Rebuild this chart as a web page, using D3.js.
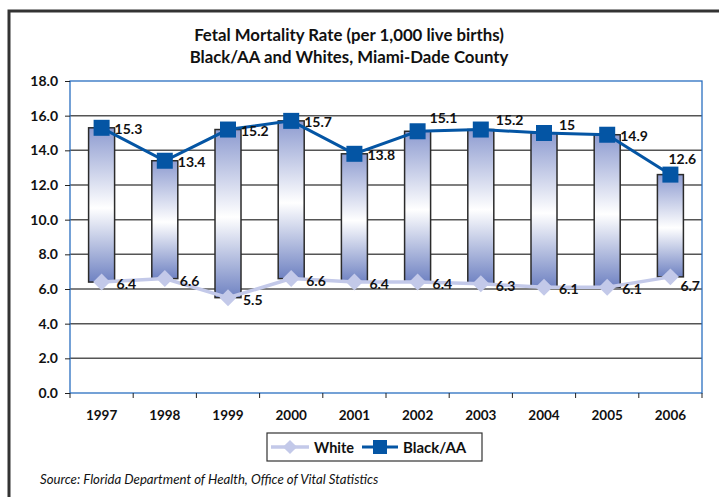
<!DOCTYPE html>
<html>
<head>
<meta charset="utf-8">
<script src="https://cdn.jsdelivr.net/npm/d3@7"></script>
<style>
  body { margin: 0; background: #fff; }
  svg { display: block; }
  text { font-family: Lato, "Open Sans", sans-serif; }
</style>
</head>
<body>
<div id="chart"></div>
<script>
const years = ["1997", "1998", "1999", "2000", "2001", "2002", "2003", "2004", "2005", "2006"];
const white = [6.4, 6.6, 5.5, 6.6, 6.4, 6.4, 6.3, 6.1, 6.1, 6.7];
const black = [15.3, 13.4, 15.2, 15.7, 13.8, 15.1, 15.2, 15.0, 14.9, 12.6];
const yTicks = [0, 2, 4, 6, 8, 10, 12, 14, 16, 18];
const titleLines = ["Fetal Mortality Rate (per 1,000 live births)", "Black/AA and Whites, Miami-Dade County"];
const source = "Source: Florida Department of Health, Office of Vital Statistics";

const width = 719, height = 497;
const margin = { top: 81, right: 17, bottom: 104, left: 70 };
const innerW = width - margin.left - margin.right;
const innerH = height - margin.top - margin.bottom;

const blueLine = "#0455a4";
const lavender = "#c3c9e9";

const svg = d3.select("#chart").append("svg")
  .attr("width", width)
  .attr("height", height);

const defs = svg.append("defs");
const grad = defs.append("linearGradient")
  .attr("id", "barGrad")
  .attr("x1", 0).attr("y1", 0).attr("x2", 0).attr("y2", 1);
grad.append("stop").attr("offset", "0%").attr("stop-color", "#8d9bd0");
grad.append("stop").attr("offset", "52%").attr("stop-color", "#ffffff");
grad.append("stop").attr("offset", "100%").attr("stop-color", "#6f82c2");

// outer frame
svg.append("rect")
  .attr("x", 9).attr("y", 11)
  .attr("width", 800).attr("height", 600)
  .attr("fill", "none")
  .attr("stroke", "#333")
  .attr("stroke-width", 3);

// title
svg.append("g").selectAll("text")
  .data(titleLines)
  .join("text")
  .attr("x", 349)
  .attr("y", (d, i) => 41 + i * 22)
  .attr("text-anchor", "middle")
  .attr("font-size", 16.8)
  .attr("font-weight", "bold")
  .attr("fill", "#111")
  .text(d => d);

const x = d3.scaleBand().domain(years).range([0, innerW]);
const y = d3.scaleLinear().domain([0, 18]).range([innerH, 0]);

const g = svg.append("g").attr("transform", `translate(${margin.left},${margin.top})`);

// gridlines
g.append("g")
  .selectAll("line")
  .data(yTicks.filter(d => d > 0 && d < 18))
  .join("line")
  .attr("x1", 0).attr("x2", innerW)
  .attr("y1", d => y(d)).attr("y2", d => y(d))
  .attr("stroke", "#555")
  .attr("stroke-width", 1.5);

// plot frame
g.append("rect")
  .attr("x", 0).attr("y", 0)
  .attr("width", innerW).attr("height", innerH)
  .attr("fill", "none")
  .attr("stroke", "#2a6fc0")
  .attr("stroke-width", 1.3);

// y axis
const yAxis = g.append("g")
  .call(d3.axisLeft(y).tickValues(yTicks).tickFormat(d3.format(".1f")).tickSize(5));
yAxis.select(".domain").remove();
yAxis.selectAll(".tick line").attr("stroke", "#222");
yAxis.selectAll(".tick text")
  .attr("x", -12)
  .attr("font-size", 14)
  .attr("font-weight", "bold")
  .attr("fill", "#111")
  .attr("font-family", "'DejaVu Sans', sans-serif");

// x axis with ticks at category boundaries
const xAxis = g.append("g").attr("transform", `translate(0,${innerH})`);
xAxis.selectAll("line")
  .data(d3.range(years.length + 1))
  .join("line")
  .attr("x1", i => i * x.step()).attr("x2", i => i * x.step())
  .attr("y1", 0).attr("y2", 5)
  .attr("stroke", "#222");
xAxis.selectAll("text")
  .data(years)
  .join("text")
  .attr("x", d => x(d) + x.bandwidth() / 2)
  .attr("y", 27)
  .attr("text-anchor", "middle")
  .attr("font-size", 13.5)
  .attr("font-weight", "bold")
  .attr("fill", "#111")
  .text(d => d);

const cx = i => x(years[i]) + x.bandwidth() / 2;
const barW = 26;

// high-low bars
g.append("g").selectAll("rect")
  .data(years)
  .join("rect")
  .attr("x", (d, i) => cx(i) - barW / 2)
  .attr("y", (d, i) => y(Math.max(black[i], white[i])))
  .attr("width", barW)
  .attr("height", (d, i) => Math.abs(y(white[i]) - y(black[i])))
  .attr("fill", "url(#barGrad)")
  .attr("stroke", "#2b2b2b")
  .attr("stroke-width", 1.5);

const line = d3.line().x((d, i) => cx(i)).y(d => y(d));

// white series
g.append("path")
  .datum(white)
  .attr("d", line)
  .attr("fill", "none")
  .attr("stroke", lavender)
  .attr("stroke-width", 3.5);
g.append("g").selectAll("path")
  .data(white)
  .join("path")
  .attr("transform", (d, i) => `translate(${cx(i)},${y(d)}) rotate(45)`)
  .attr("d", "M-6,-6H6V6H-6Z")
  .attr("fill", lavender);

// black series
g.append("path")
  .datum(black)
  .attr("d", line)
  .attr("fill", "none")
  .attr("stroke", blueLine)
  .attr("stroke-width", 3);
g.append("g").selectAll("rect")
  .data(black)
  .join("rect")
  .attr("x", (d, i) => cx(i) - 8)
  .attr("y", d => y(d) - 8)
  .attr("width", 16).attr("height", 16)
  .attr("fill", blueLine);

// data labels (placement tweaks where the original avoided overlaps)
const blackOffset = { "2002": [12, -8], "2003": [15, -5], "2004": [15, -3], "2006": [-2, -11] };
const whiteOffset = { "2006": [10, 14] };
const fmt = v => (v % 1 === 0 ? String(v) : v.toFixed(1));

g.append("g").selectAll("text")
  .data(black)
  .join("text")
  .attr("x", (d, i) => cx(i) + (blackOffset[years[i]] ? blackOffset[years[i]][0] : 13))
  .attr("y", (d, i) => y(d) + (blackOffset[years[i]] ? blackOffset[years[i]][1] : 6))
  .attr("font-size", 14)
  .attr("font-weight", "bold")
  .attr("fill", "#111")
  .text(d => fmt(d));

g.append("g").selectAll("text")
  .data(white)
  .join("text")
  .attr("x", (d, i) => cx(i) + (whiteOffset[years[i]] ? whiteOffset[years[i]][0] : 15))
  .attr("y", (d, i) => y(d) + (whiteOffset[years[i]] ? whiteOffset[years[i]][1] : 7))
  .attr("font-size", 14)
  .attr("font-weight", "bold")
  .attr("fill", "#111")
  .text(d => fmt(d));

// legend
const lg = svg.append("g").attr("transform", "translate(267,433)");
lg.append("rect")
  .attr("width", 215).attr("height", 28)
  .attr("fill", "#fff")
  .attr("stroke", "#333")
  .attr("stroke-width", 1.2);
lg.append("line").attr("x1", 4).attr("x2", 42).attr("y1", 14).attr("y2", 14)
  .attr("stroke", lavender).attr("stroke-width", 3.5);
lg.append("path").attr("transform", "translate(23,14) rotate(45)")
  .attr("d", "M-5,-5H5V5H-5Z").attr("fill", lavender);
lg.append("text").attr("x", 47).attr("y", 19.5)
  .attr("font-size", 14.5).attr("font-weight", "bold").attr("fill", "#111").text("White");
lg.append("line").attr("x1", 95).attr("x2", 131).attr("y1", 14).attr("y2", 14)
  .attr("stroke", blueLine).attr("stroke-width", 3);
lg.append("rect").attr("x", 106).attr("y", 7).attr("width", 14).attr("height", 14)
  .attr("fill", blueLine);
lg.append("text").attr("x", 136).attr("y", 19.5)
  .attr("font-size", 15).attr("font-weight", "bold").attr("fill", "#111").text("Black/AA");

// source note
svg.append("text")
  .attr("x", 40).attr("y", 484)
  .attr("font-size", 13.2)
  .attr("font-style", "italic")
  .attr("fill", "#111")
  .text(source);
</script>
</body>
</html>
